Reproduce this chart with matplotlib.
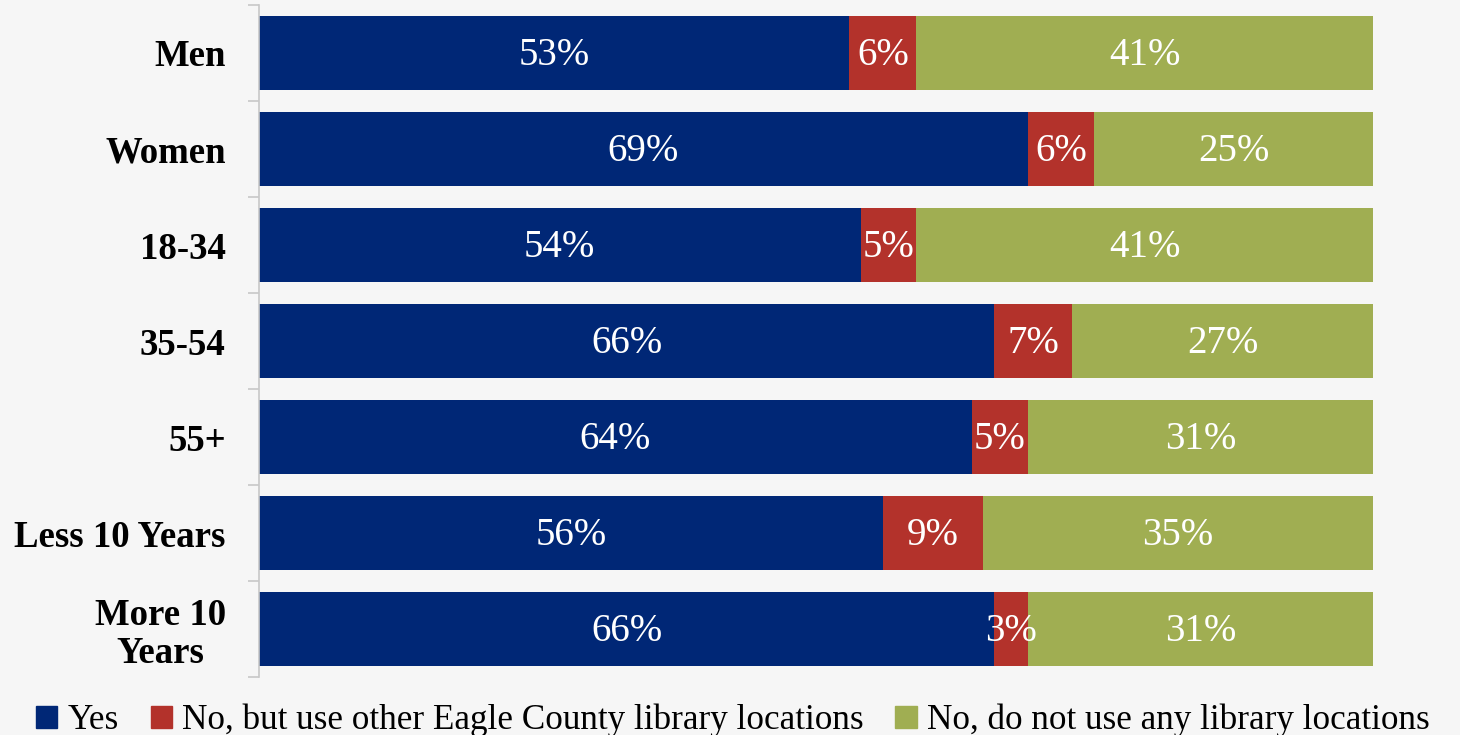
import matplotlib.pyplot as plt
from matplotlib.patches import Patch
import numpy as np

categories = ['Men', 'Women', '18-34', '35-54', '55+', 'Less 10 Years', 'More 10\nYears']
yes = [53, 69, 54, 66, 64, 56, 66]
no_other = [6, 6, 5, 7, 5, 9, 3]
no_any = [41, 25, 41, 27, 31, 35, 31]
series_names = ['Yes', 'No, but use other Eagle County library locations',
                'No, do not use any library locations']
colors = ['#002776', '#B3322B', '#A0AE52']

plt.rcParams['font.family'] = ['Liberation Serif', 'DejaVu Serif']

fig = plt.figure(figsize=(14.6, 7.35), dpi=100, facecolor='#f6f6f6')
ax = fig.add_axes([0.1774, 0.0789, 0.763, 0.9143])
ax.set_facecolor('#f6f6f6')

y = np.arange(len(categories))
left = np.zeros(len(categories))
for vals, col in zip([yes, no_other, no_any], colors):
    vals = np.array(vals)
    ax.barh(y, vals, left=left, height=0.77, color=col)
    for yi, l, v in zip(y, left, vals):
        ax.text(l + v / 2, yi + 0.03, f'{v}%', ha='center', va='center',
                color='white', fontsize=28)
    left += vals

ax.set_xlim(0, 100)
ax.set_ylim(len(categories) - 0.5, -0.5)
ax.set_xticks([])
ax.set_yticks(y)
ax.set_yticklabels(categories, fontsize=26.5, fontweight='bold')
for lab in ax.get_yticklabels():
    lab.set_multialignment('center')
    lab.set_linespacing(1.1)
ax.tick_params(axis='y', which='major', length=0, pad=24)
ax.set_yticks(np.arange(-0.5, len(categories)), minor=True)
ax.tick_params(axis='y', which='minor', length=8, color='#c8c8c8', width=1.2)

for s in ['top', 'right', 'bottom']:
    ax.spines[s].set_visible(False)
ax.spines['left'].set_color('#c8c8c8')
ax.spines['left'].set_linewidth(1.2)

handles = [Patch(color=c) for c in colors]
fig.legend(handles, series_names, loc='lower center', bbox_to_anchor=(0.502, -0.046),
           ncol=3, frameon=False, fontsize=25.3, handlelength=0.6, handleheight=0.6,
           handletextpad=0.3, columnspacing=0.9)

fig.savefig('out.png', dpi=100, facecolor=fig.get_facecolor())
